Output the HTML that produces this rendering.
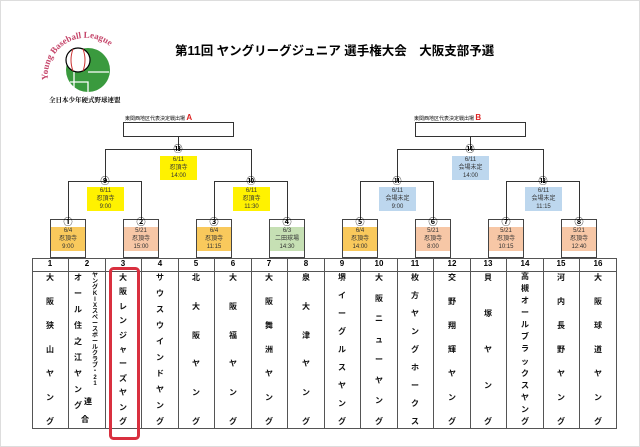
<!DOCTYPE html>
<html><head><meta charset="utf-8"><style>
body{margin:0;width:640px;height:447px;background:#fff;position:relative;overflow:hidden;font-family:"Liberation Sans","Noto Sans CJK JP",sans-serif;}
.a{position:absolute}
.col{position:absolute;top:273px;height:153px;display:flex;flex-direction:column;justify-content:space-between;align-items:center;font-size:8px;font-weight:bold;line-height:9px;color:#111}
.num{position:absolute;top:259px;font-size:8px;font-weight:bold;text-align:center;width:36px}
.bx{position:absolute;font-size:6px;line-height:8px;text-align:center;color:#333}
.cn{position:absolute;font-size:9px;line-height:9px;width:12px;text-align:center;color:#000;font-weight:bold}
</style></head><body>
<div class="a" style="left:0;top:0;width:638px;height:445px;border:1px solid #ddd"></div>
<svg class="a" style="left:0;top:0" width="640" height="447">
<defs><path id="arc" d="M48,80 A38,38 0 0 1 124,72"/></defs>
<circle cx="88" cy="70" r="22" fill="#3a9a3e"/>
<path d="M88,72 L109,72 M70,82 L88,82 L88,92 M74,72 L74,88" stroke="#fff" stroke-width="1.3" fill="none"/>
<circle cx="78" cy="60" r="12" fill="#fff" stroke="#000" stroke-width="1.2"/>
<path d="M73,49 Q69,60 73,71 M83,49 Q87,60 83,71" stroke="#c33" fill="none" stroke-width="1"/>
<text font-family="Liberation Serif" font-size="9" fill="#c5456a" font-weight="bold"><textPath href="#arc" startOffset="0">Young Baseball League</textPath></text>
<g stroke="#333" stroke-width="1" fill="none">
<rect x="123.5" y="122.5" width="110" height="14"/>
<rect x="415.5" y="122.5" width="110" height="14"/>
<path d="M178.5,136 V149.5 M105.5,181 V149.5 H251.5 V181 M68.5,219 V181.5 H141.5 V219 M214.5,219 V181.5 H287.5 V219"/>
<path d="M470.5,136 V149.5 M397.5,181 V149.5 H543.5 V181 M360.5,219 V181.5 H433.5 V219 M506.5,219 V181.5 H579.5 V219"/>
</g>
<g stroke="#555" stroke-width="1" fill="none">
<rect x="32.5" y="258.5" width="584" height="170"/>
<line x1="32" y1="271.5" x2="616" y2="271.5"/>
</g>
<g fill="none" stroke="#555">
<path d="M68.5,258V429 M105.5,258V429 M141.5,258V429 M178.5,258V429 M214.5,258V429 M251.5,258V429 M287.5,258V429 M324.5,258V429 M360.5,258V429 M397.5,258V429 M433.5,258V429 M470.5,258V429 M506.5,258V429 M543.5,258V429 M579.5,258V429"/>
</g>
<rect x="110.5" y="268.5" width="28" height="170" rx="3" fill="none" stroke="#d9303f" stroke-width="3"/>
</svg>
<div class="a" style="left:49px;top:95px;font-size:6.5px;font-weight:bold;font-family:'Liberation Serif','Noto Serif CJK SC',serif;white-space:nowrap">全日本少年硬式野球連盟</div>
<div class="a" style="left:175px;top:40px;font-size:12.5px;font-weight:bold;white-space:nowrap">第11回 ヤングリーグジュニア 選手権大会　大阪支部予選</div>
<div class="a" style="left:125px;top:113px;font-size:5px;white-space:nowrap">東関西地区代表決定戦出場 <b style="color:#d22;font-size:8px">A</b></div>
<div class="a" style="left:414px;top:113px;font-size:5px;white-space:nowrap">東関西地区代表決定戦出場 <b style="color:#d22;font-size:8px">B</b></div>

<div class="a" style="left:50px;top:219px;width:36px;height:39px;border:1px solid #444;box-sizing:border-box"></div>
<div class="a" style="left:123px;top:219px;width:36px;height:39px;border:1px solid #444;box-sizing:border-box"></div>
<div class="a" style="left:196px;top:219px;width:36px;height:39px;border:1px solid #444;box-sizing:border-box"></div>
<div class="a" style="left:269px;top:219px;width:36px;height:39px;border:1px solid #444;box-sizing:border-box"></div>
<div class="a" style="left:342px;top:219px;width:36px;height:39px;border:1px solid #444;box-sizing:border-box"></div>
<div class="a" style="left:415px;top:219px;width:36px;height:39px;border:1px solid #444;box-sizing:border-box"></div>
<div class="a" style="left:488px;top:219px;width:36px;height:39px;border:1px solid #444;box-sizing:border-box"></div>
<div class="a" style="left:561px;top:219px;width:36px;height:39px;border:1px solid #444;box-sizing:border-box"></div>
<div class="bx" style="left:51px;top:227px;width:34px;height:24px;background:#f9c95c">6/4<br>忍頂寺<br>9:00</div>
<div class="bx" style="left:124px;top:227px;width:34px;height:24px;background:#f7c7a6">5/21<br>忍頂寺<br>15:00</div>
<div class="bx" style="left:197px;top:227px;width:34px;height:24px;background:#f9c95c">6/4<br>忍頂寺<br>11:15</div>
<div class="bx" style="left:270px;top:227px;width:34px;height:24px;background:#c6e0b4">6/3<br>二田球場<br>14:30</div>
<div class="bx" style="left:343px;top:227px;width:34px;height:24px;background:#f9c95c">6/4<br>忍頂寺<br>14:00</div>
<div class="bx" style="left:416px;top:227px;width:34px;height:24px;background:#f7c7a6">5/21<br>忍頂寺<br>8:00</div>
<div class="bx" style="left:489px;top:227px;width:34px;height:24px;background:#f7c7a6">5/21<br>忍頂寺<br>10:15</div>
<div class="bx" style="left:562px;top:227px;width:34px;height:24px;background:#f7c7a6">5/21<br>忍頂寺<br>12:40</div>
<div class="bx" style="left:87px;top:187px;width:37px;height:24px;background:#fff200">6/11<br>忍頂寺<br>9:00</div>
<div class="bx" style="left:233px;top:187px;width:37px;height:24px;background:#fff200">6/11<br>忍頂寺<br>11:30</div>
<div class="bx" style="left:160px;top:156px;width:37px;height:24px;background:#fff200">6/11<br>忍頂寺<br>14:00</div>
<div class="bx" style="left:379px;top:187px;width:37px;height:24px;background:#bdd7ee">6/11<br>会場未定<br>9:00</div>
<div class="bx" style="left:525px;top:187px;width:37px;height:24px;background:#bdd7ee">6/11<br>会場未定<br>11:15</div>
<div class="bx" style="left:452px;top:156px;width:37px;height:24px;background:#bdd7ee">6/11<br>会場未定<br>14:00</div>
<div class="cn" style="left:62px;top:218px">①</div>
<div class="cn" style="left:135px;top:218px">②</div>
<div class="cn" style="left:208px;top:218px">③</div>
<div class="cn" style="left:281px;top:218px">④</div>
<div class="cn" style="left:354px;top:218px">⑤</div>
<div class="cn" style="left:427px;top:218px">⑥</div>
<div class="cn" style="left:500px;top:218px">⑦</div>
<div class="cn" style="left:573px;top:218px">⑧</div>
<div class="cn" style="left:99px;top:177px">⑨</div>
<div class="cn" style="left:245px;top:177px">⑩</div>
<div class="cn" style="left:391px;top:177px">⑪</div>
<div class="cn" style="left:537px;top:177px">⑫</div>
<div class="cn" style="left:172px;top:145px">⑬</div>
<div class="cn" style="left:464px;top:145px">⑭</div>
<div class="num" style="left:32px">1</div><div class="num" style="left:69px">2</div><div class="num" style="left:105px">3</div><div class="num" style="left:142px">4</div>
<div class="num" style="left:178px">5</div><div class="num" style="left:215px">6</div><div class="num" style="left:251px">7</div><div class="num" style="left:288px">8</div>
<div class="num" style="left:324px">9</div><div class="num" style="left:361px">10</div><div class="num" style="left:397px">11</div><div class="num" style="left:434px">12</div>
<div class="num" style="left:470px">13</div><div class="num" style="left:507px">14</div><div class="num" style="left:543px">15</div><div class="num" style="left:580px">16</div>
<div class="col" style="left:46px"><span>大</span><span>阪</span><span>狭</span><span>山</span><span>ヤ</span><span>ン</span><span>グ</span></div>
<div class="col" style="left:74px;height:137px"><span>オ</span><span>ー</span><span>ル</span><span>住</span><span>之</span><span>江</span><span>ヤ</span><span>ン</span><span>グ</span></div>
<div class="a" style="left:81px;top:414px;font-size:8px;font-weight:bold">合</div>
<div class="a" style="left:84px;top:396px;font-size:8px;font-weight:bold">連</div>
<div class="col" style="left:92px;height:140px;font-size:6px;line-height:6px;justify-content:flex-start"><span>ヤ</span><span>ン</span><span>グ</span><span>K</span><span>I</span><span>X</span><span>ス</span><span>ペ</span><span>ー</span><span>ス</span><span>ボ</span><span>ー</span><span>ル</span><span>ク</span><span>ラ</span><span>ブ</span><span>・</span><span>2</span><span>1</span></div>
<div class="col" style="left:119px"><span>大</span><span>阪</span><span>レ</span><span>ン</span><span>ジ</span><span>ャ</span><span>ー</span><span>ズ</span><span>ヤ</span><span>ン</span><span>グ</span></div>
<div class="col" style="left:156px"><span>サ</span><span>ウ</span><span>ス</span><span>ウ</span><span>イ</span><span>ン</span><span>ド</span><span>ヤ</span><span>ン</span><span>グ</span></div>
<div class="col" style="left:192px"><span>北</span><span>大</span><span>阪</span><span>ヤ</span><span>ン</span><span>グ</span></div>
<div class="col" style="left:229px"><span>大</span><span>阪</span><span>福</span><span>ヤ</span><span>ン</span><span>グ</span></div>
<div class="col" style="left:265px"><span>大</span><span>阪</span><span>舞</span><span>洲</span><span>ヤ</span><span>ン</span><span>グ</span></div>
<div class="col" style="left:302px"><span>泉</span><span>大</span><span>津</span><span>ヤ</span><span>ン</span><span>グ</span></div>
<div class="col" style="left:338px"><span>堺</span><span>イ</span><span>ー</span><span>グ</span><span>ル</span><span>ス</span><span>ヤ</span><span>ン</span><span>グ</span></div>
<div class="col" style="left:375px"><span>大</span><span>阪</span><span>ニ</span><span>ュ</span><span>ー</span><span>ヤ</span><span>ン</span><span>グ</span></div>
<div class="col" style="left:411px"><span>枚</span><span>方</span><span>ヤ</span><span>ン</span><span>グ</span><span>ホ</span><span>ー</span><span>ク</span><span>ス</span></div>
<div class="col" style="left:448px"><span>交</span><span>野</span><span>翔</span><span>輝</span><span>ヤ</span><span>ン</span><span>グ</span></div>
<div class="col" style="left:484px"><span>貝</span><span>塚</span><span>ヤ</span><span>ン</span><span>グ</span></div>
<div class="col" style="left:521px;line-height:8px"><span>高</span><span>槻</span><span>オ</span><span>ー</span><span>ル</span><span>ブ</span><span>ラ</span><span>ッ</span><span>ク</span><span>ス</span><span>ヤ</span><span>ン</span><span>グ</span></div>
<div class="col" style="left:557px"><span>河</span><span>内</span><span>長</span><span>野</span><span>ヤ</span><span>ン</span><span>グ</span></div>
<div class="col" style="left:594px"><span>大</span><span>阪</span><span>球</span><span>道</span><span>ヤ</span><span>ン</span><span>グ</span></div>
</body></html>
